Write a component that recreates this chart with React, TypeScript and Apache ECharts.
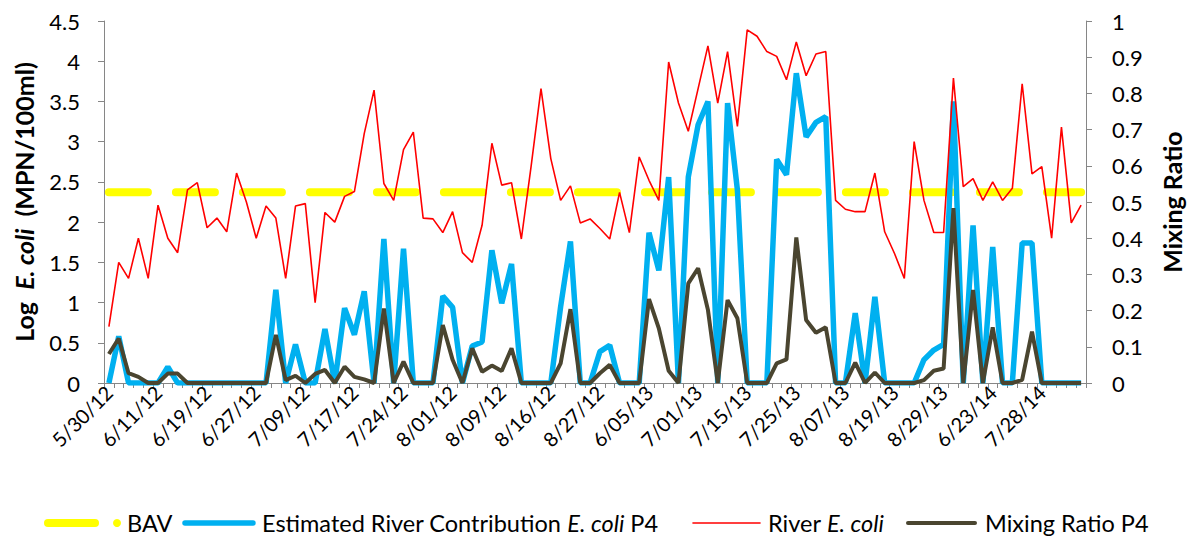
import React, { useEffect, useRef } from "react";
import * as echarts from "echarts";

// Sampling dates (every 5th is labelled on the axis)
const dates = [
  "5/30/12", "5/31/12", "6/04/12", "6/05/12", "6/06/12",
  "6/11/12", "6/12/12", "6/13/12", "6/14/12", "6/18/12",
  "6/19/12", "6/20/12", "6/21/12", "6/25/12", "6/26/12",
  "6/27/12", "6/28/12", "7/02/12", "7/03/12", "7/05/12",
  "7/09/12", "7/10/12", "7/11/12", "7/12/12", "7/16/12",
  "7/17/12", "7/18/12", "7/19/12", "7/20/12", "7/23/12",
  "7/24/12", "7/25/12", "7/26/12", "7/30/12", "7/31/12",
  "8/01/12", "8/02/12", "8/06/12", "8/07/12", "8/08/12",
  "8/09/12", "8/10/12", "8/13/12", "8/14/12", "8/15/12",
  "8/16/12", "8/20/12", "8/21/12", "8/22/12", "8/23/12",
  "8/27/12", "8/28/12", "8/29/12", "8/30/12", "6/03/13",
  "6/05/13", "6/10/13", "6/17/13", "6/19/13", "6/24/13",
  "7/01/13", "7/02/13", "7/08/13", "7/09/13", "7/10/13",
  "7/15/13", "7/16/13", "7/17/13", "7/22/13", "7/23/13",
  "7/25/13", "7/29/13", "7/30/13", "7/31/13", "8/05/13",
  "8/07/13", "8/08/13", "8/12/13", "8/13/13", "8/14/13",
  "8/19/13", "8/20/13", "8/21/13", "8/26/13", "8/27/13",
  "8/29/13", "9/03/13", "6/02/14", "6/09/14", "6/16/14",
  "6/23/14", "6/30/14", "7/07/14", "7/14/14", "7/21/14",
  "7/28/14", "8/04/14", "8/11/14", "8/18/14", "8/25/14",
];

// Log10 E. coli in the river (MPN/100ml)
const riverEcoli = [
  0.70, 1.50, 1.30, 1.80, 1.30, 2.21, 1.80, 1.62, 2.40, 2.49,
  1.93, 2.05, 1.88, 2.61, 2.25, 1.80, 2.20, 2.05, 1.30, 2.20,
  2.23, 1.00, 2.12, 2.00, 2.32, 2.38, 3.10, 3.64, 2.48, 2.27,
  2.90, 3.12, 2.05, 2.04, 1.87, 2.13, 1.62, 1.50, 1.96, 2.98,
  2.46, 2.49, 1.79, 2.70, 3.66, 2.79, 2.27, 2.45, 1.99, 2.04,
  1.92, 1.79, 2.37, 1.87, 2.81, 2.52, 2.27, 3.99, 3.48, 3.13,
  3.66, 4.19, 3.48, 4.12, 3.19, 4.39, 4.31, 4.12, 4.06, 3.77,
  4.24, 3.82, 4.09, 4.12, 2.27, 2.16, 2.13, 2.13, 2.61, 1.88,
  1.61, 1.30, 3.00, 2.27, 1.87, 1.87, 3.79, 2.44, 2.54, 2.27,
  2.50, 2.27, 2.42, 3.72, 2.60, 2.69, 1.80, 3.18, 1.99, 2.21,
];

// Estimated river contribution of E. coli at P4 (log)
const estimatedP4 = [
  0, 0.58, 0, 0, 0, 0, 0.20, 0, 0, 0,
  0, 0, 0, 0, 0, 0, 0, 1.16, 0, 0.48,
  0, 0, 0.67, 0, 0.93, 0.60, 1.14, 0, 1.79, 0,
  1.67, 0, 0, 0, 1.08, 0.94, 0, 0.46, 0.51, 1.65,
  0.99, 1.48, 0, 0, 0, 0, 0.95, 1.76, 0, 0,
  0.39, 0.47, 0, 0, 0, 1.87, 1.40, 2.56, 0, 2.56,
  3.21, 3.50, 0, 3.48, 2.40, 0, 0, 0, 2.78, 2.59,
  3.85, 3.06, 3.24, 3.31, 0, 0, 0.87, 0, 1.07, 0,
  0, 0, 0, 0.29, 0.41, 0.48, 3.50, 0, 1.96, 0,
  1.69, 0, 0, 1.74, 1.74, 0, 0, 0, 0, 0,
];

// Mixing ratio at P4
const mixingP4 = [
  0.080, 0.123, 0.027, 0.017, 0, 0, 0.026, 0.026, 0, 0,
  0, 0, 0, 0, 0, 0, 0, 0.133, 0.008, 0.020,
  0, 0.025, 0.036, 0, 0.045, 0.017, 0.010, 0, 0.206, 0,
  0.059, 0, 0, 0, 0.160, 0.064, 0, 0.096, 0.031, 0.048,
  0.033, 0.096, 0, 0, 0, 0, 0.054, 0.204, 0, 0,
  0.027, 0.050, 0, 0, 0, 0.232, 0.151, 0.034, 0, 0.275,
  0.317, 0.202, 0, 0.229, 0.179, 0, 0, 0, 0.054, 0.065,
  0.402, 0.174, 0.139, 0.154, 0, 0, 0.056, 0, 0.029, 0,
  0, 0, 0, 0.008, 0.034, 0.040, 0.483, 0, 0.257, 0,
  0.154, 0, 0, 0.009, 0.142, 0, 0, 0, 0, 0,
];

// Beach action value: log10(235)
const bavLog = 2.371;

const FONT = "Lato, 'Open Sans', sans-serif";
const YELLOW = "#FFFF00";
const BLUE = "#00B0F0";
const RED = "#FF0000";
const OLIVE = "#4A4530";
const AXIS_GREY = "#868686";
const LEGEND_SIZE = 23.5;
const TITLE_SIZE = 25;

export default function App() {
  const ref = useRef<HTMLDivElement>(null);

  useEffect(() => {
    if (!ref.current) return;
    const chart = echarts.init(ref.current, undefined, { renderer: "svg" });

    const legendY = 523;
    const legendText = (x: number, text: string) => ({
      type: "text",
      x,
      y: legendY,
      style: {
        text,
        fill: "#000",
        fontSize: LEGEND_SIZE,
        fontFamily: FONT,
        align: "left",
        verticalAlign: "middle",
        rich: {
          i: { fontStyle: "italic", fontSize: LEGEND_SIZE, fontFamily: FONT, fill: "#000" },
        },
      },
    });
    const legendLine = (x1: number, x2: number, color: string, width: number) => ({
      type: "line",
      shape: { x1, y1: legendY, x2, y2: legendY },
      style: { stroke: color, lineWidth: width, lineCap: "round" },
    });

    chart.setOption({
      animation: false,
      backgroundColor: "#fff",
      grid: { left: 104, right: 101, top: 21, bottom: 156 },
      xAxis: {
        type: "category",
        data: dates,
        boundaryGap: true,
        axisLine: { lineStyle: { color: AXIS_GREY, width: 1 } },
        axisTick: { show: true, interval: 0, length: 5, lineStyle: { color: AXIS_GREY } },
        axisLabel: {
          interval: 4,
          rotate: 45,
          fontSize: 20,
          fontFamily: FONT,
          color: "#000",
          margin: 6,
        },
        splitLine: { show: false },
      },
      yAxis: [
        {
          type: "value",
          min: 0,
          max: 4.5,
          interval: 0.5,
          position: "left",
          axisLine: { show: true, lineStyle: { color: AXIS_GREY, width: 1 } },
          axisTick: { show: true, length: 6, lineStyle: { color: AXIS_GREY } },
          axisLabel: { fontSize: 22, fontFamily: FONT, color: "#000", margin: 24 },
          splitLine: { show: false },
        },
        {
          type: "value",
          min: 0,
          max: 1,
          interval: 0.1,
          position: "right",
          axisLine: { show: true, lineStyle: { color: AXIS_GREY, width: 1 } },
          axisTick: { show: true, length: 6, lineStyle: { color: AXIS_GREY } },
          axisLabel: {
            fontSize: 22,
            fontFamily: FONT,
            color: "#000",
            margin: 26,
            formatter: (v: number) => String(Math.round(v * 10) / 10),
          },
          splitLine: { show: false },
        },
      ],
      series: [
        {
          name: "BAV",
          type: "line",
          yAxisIndex: 0,
          data: dates.map(() => bavLog),
          symbol: "none",
          lineStyle: { color: YELLOW, width: 8, type: [39, 28], cap: "round" },
        },
        {
          name: "Estimated River Contribution E. coli P4",
          type: "line",
          yAxisIndex: 0,
          data: estimatedP4,
          symbol: "none",
          lineStyle: { color: BLUE, width: 5.5 },
        },
        {
          name: "River E. coli",
          type: "line",
          yAxisIndex: 0,
          data: riverEcoli,
          symbol: "none",
          lineStyle: { color: RED, width: 1.6 },
        },
        {
          name: "Mixing Ratio P4",
          type: "line",
          yAxisIndex: 1,
          data: mixingP4,
          symbol: "none",
          lineStyle: { color: OLIVE, width: 4 },
        },
      ],
      graphic: [
        {
          type: "text",
          x: 24,
          y: 202,
          rotation: Math.PI / 2,
          style: {
            text: "{b|Log  }{bi|E. coli}{b|  (MPN/100ml)}",
            align: "center",
            verticalAlign: "middle",
            fill: "#000",
            rich: {
              b: { fontWeight: "bold", fontSize: TITLE_SIZE, fontFamily: FONT, fill: "#000" },
              bi: { fontWeight: "bold", fontStyle: "italic", fontSize: TITLE_SIZE, fontFamily: FONT, fill: "#000" },
            },
          },
        },
        {
          type: "text",
          x: 1172,
          y: 202,
          rotation: Math.PI / 2,
          style: {
            text: "Mixing Ratio",
            align: "center",
            verticalAlign: "middle",
            fill: "#000",
            fontWeight: "bold",
            fontSize: TITLE_SIZE,
            fontFamily: FONT,
          },
        },
        legendLine(48, 95, YELLOW, 8),
        {
          type: "circle",
          shape: { cx: 117, cy: legendY, r: 4 },
          style: { fill: YELLOW },
        },
        legendText(127, "BAV"),
        legendLine(185, 253, BLUE, 5.5),
        legendText(262, "Estimated River Contribution {i|E. coli} P4"),
        legendLine(693, 760, RED, 1.6),
        legendText(768, "River {i|E. coli}"),
        legendLine(908, 975, OLIVE, 4),
        legendText(985, "Mixing Ratio P4"),
      ],
    });

    return () => chart.dispose();
  }, []);

  return (
    <div
      ref={ref}
      style={{ position: "fixed", left: 0, top: 0, width: 1187, height: 539, background: "#fff" }}
    />
  );
}
